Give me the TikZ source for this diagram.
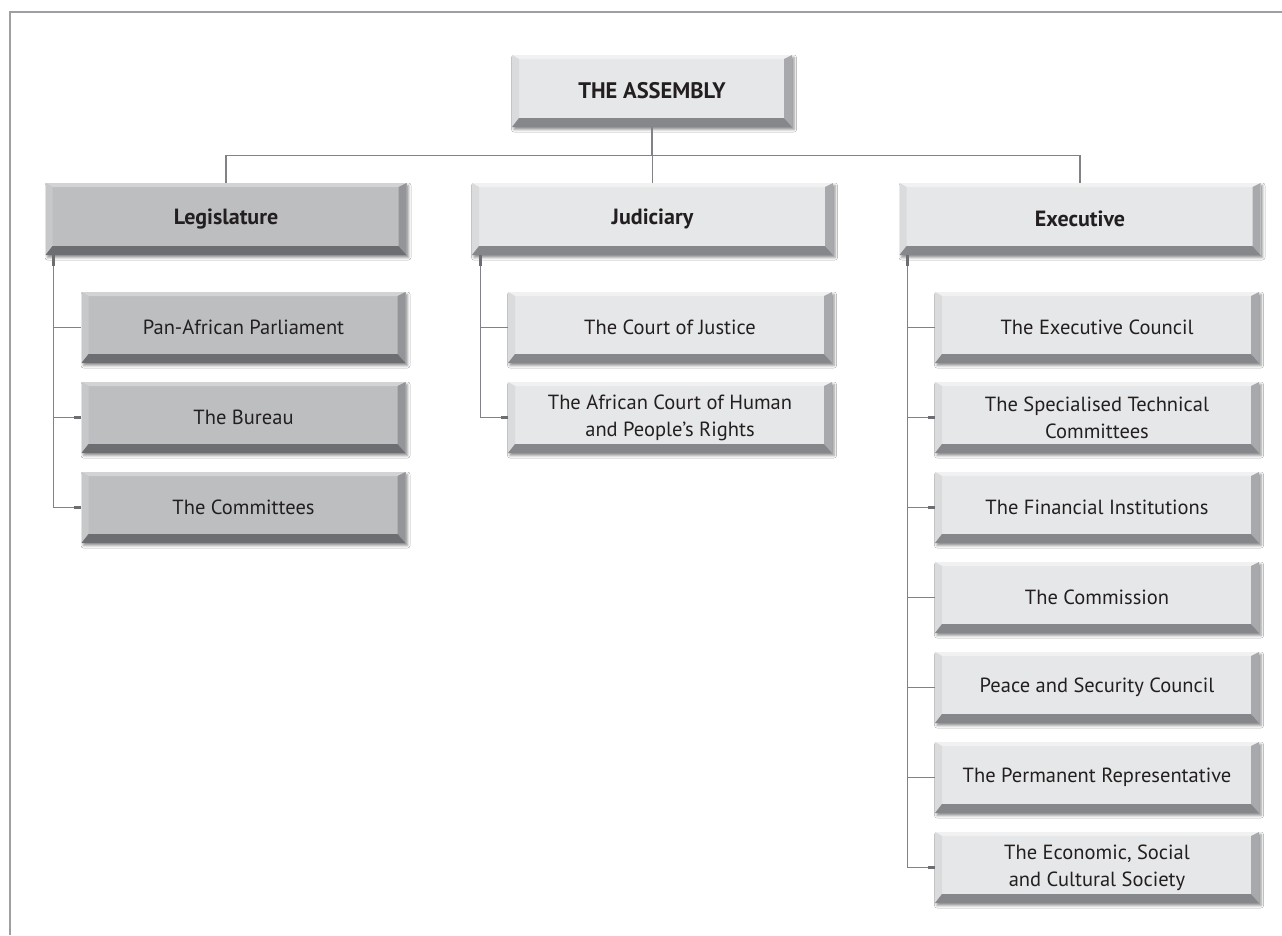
\documentclass[tikz,border=0pt]{standalone}
\usepackage{fontspec}
\setmainfont{PT Sans}
\usetikzlibrary{calc,shadows.blur}
\definecolor{txt}{HTML}{231F20}
\definecolor{faceL}{HTML}{E6E7E8}
\definecolor{topL}{HTML}{F1F1F2}
\definecolor{leftL}{HTML}{DADBDC}
\definecolor{rightL}{HTML}{A7A9AC}
\definecolor{botL}{HTML}{86878A}
\definecolor{faceD}{HTML}{BCBEC0}
\definecolor{topD}{HTML}{D1D3D4}
\definecolor{leftD}{HTML}{C6C8CA}
\definecolor{rightD}{HTML}{939598}
\definecolor{botD}{HTML}{6D6E71}
\definecolor{lineC}{HTML}{808285}
\definecolor{frameC}{HTML}{9D9FA2}
\def\pb{path picture bounding box}
\tikzset{
  bev/.style n args={4}{path picture={
    \fill[#1] (\pb.north west) -- (\pb.north east) -- ($(\pb.north east)+(-8pt,-4pt)$) -- ($(\pb.north west)+(7pt,-4pt)$) -- cycle;
    \fill[#2] (\pb.north west) -- ($(\pb.north west)+(7pt,-4pt)$) -- ($(\pb.south west)+(7pt,9pt)$) -- (\pb.south west) -- cycle;
    \fill[#3] (\pb.north east) -- (\pb.south east) -- ($(\pb.south east)+(-8pt,9pt)$) -- ($(\pb.north east)+(-8pt,-4pt)$) -- cycle;
    \fill[#4] (\pb.south west) -- (\pb.south east) -- ($(\pb.south east)+(-8pt,9pt)$) -- ($(\pb.south west)+(7pt,9pt)$) -- cycle;
  }},
  box/.style={rectangle, inner sep=0pt, align=center, text=txt,
    font=\fontsize{20.5}{27}\selectfont,
    blur shadow={shadow xshift=2pt, shadow yshift=-2.5pt, shadow blur radius=2.5pt, shadow opacity=45}},
  lightbox/.style={box, fill=faceL, bev={topL}{leftL}{rightL}{botL}},
  darkbox/.style={box, fill=faceD, bev={topD}{leftD}{rightD}{botD}},
  parent/.style={minimum width=361pt, minimum height=72pt, font=\bfseries\fontsize{22}{27}\selectfont},
  child/.style={minimum width=324pt, minimum height=71pt},
  link/.style={draw=lineC, line width=1.3pt},
  nub/.style={draw=lineC!85!black, line width=3pt}
}
\begin{document}
\begin{tikzpicture}[x=1pt,y=-1pt]
\useasboundingbox (0,0) rectangle (1282,935);
\fill[white] (0,0) rectangle (1282,935);
\draw[frameC, line width=1.5pt] (10,935) -- (10,12) -- (1282,12);

% top
\node[lightbox, minimum width=280pt, minimum height=72pt, font=\bfseries\fontsize{22.5}{27}\selectfont] (asm) at (652,91) {THE ASSEMBLY};

% parents
\node[darkbox, parent] (leg) at (226,219) {Legislature};
\node[lightbox, parent] (jud) at (652.5,219) {Judiciary};
\node[lightbox, parent] (exe) at (1080,219) {Executive};

% legislature children
\node[darkbox, child] (pap) at (243.5,327.5) {Pan-African Parliament};
\node[darkbox, child] (bur) at (243.5,417.5) {The Bureau};
\node[darkbox, child] (com) at (243.5,507.5) {The Committees};

% judiciary children
\node[lightbox, child] (coj) at (670,327.5) {The Court of Justice};
\node[lightbox, child] (ach) at (670,417.5) {The African Court of Human\\and People's Rights};

% executive children
\node[lightbox, child] (exc) at (1097,327.5) {The Executive Council};
\node[lightbox, child] (stc) at (1097,417.5) {The Specialised Technical\\Committees};
\node[lightbox, child] (fin) at (1097,507.5) {The Financial Institutions};
\node[lightbox, child] (cms) at (1097,597.5) {The Commission};
\node[lightbox, child] (psc) at (1097,687.5) {Peace and Security Council};
\node[lightbox, child] (per) at (1097,777.5) {The Permanent Representative};
\node[lightbox, child] (ecs) at (1097,867.5) {The Economic, Social\\and Cultural Society};

% top connectors
\coordinate (hl) at ($(asm.south)+(0pt,-28pt)$);
\draw[link] (asm.south) -- (hl);
\draw[link] (leg.north) -- (leg.north |- hl) -- (exe.north |- hl) -- (exe.north);
\draw[link] (jud.north |- hl) -- (jud.north);

% legislature
\coordinate (lv) at ($(leg.south west)+(8pt,0pt)$);
\draw[link] (lv) -- (lv |- com.west) -- (com.west);
\draw[link] (lv |- pap.west) -- (pap.west);
\draw[link] (lv |- bur.west) -- (bur.west);
\draw[nub] (lv) -- ($(lv)+(0pt,-11pt)$);
\draw[nub] ($(bur.west)+(-7pt,0pt)$) -- (bur.west);
\draw[nub] ($(com.west)+(-7pt,0pt)$) -- (com.west);

% judiciary
\coordinate (jv) at ($(jud.south west)+(9pt,0pt)$);
\draw[link] (jv) -- (jv |- ach.west) -- (ach.west);
\draw[link] (jv |- coj.west) -- (coj.west);
\draw[nub] (jv) -- ($(jv)+(0pt,-11pt)$);
\draw[nub] ($(ach.west)+(-7pt,0pt)$) -- (ach.west);

% executive
\coordinate (ev) at ($(exe.south west)+(8pt,0pt)$);
\draw[link] (ev) -- (ev |- ecs.west) -- (ecs.west);
\draw[link] (ev |- exc.west) -- (exc.west);
\draw[link] (ev |- stc.west) -- (stc.west);
\draw[link] (ev |- fin.west) -- (fin.west);
\draw[link] (ev |- cms.west) -- (cms.west);
\draw[link] (ev |- psc.west) -- (psc.west);
\draw[link] (ev |- per.west) -- (per.west);
\draw[nub] (ev) -- ($(ev)+(0pt,-11pt)$);
\draw[nub] ($(stc.west)+(-7pt,0pt)$) -- (stc.west);
\draw[nub] ($(fin.west)+(-7pt,0pt)$) -- (fin.west);
\draw[nub] ($(ecs.west)+(-7pt,0pt)$) -- (ecs.west);
\end{tikzpicture}
\end{document}
